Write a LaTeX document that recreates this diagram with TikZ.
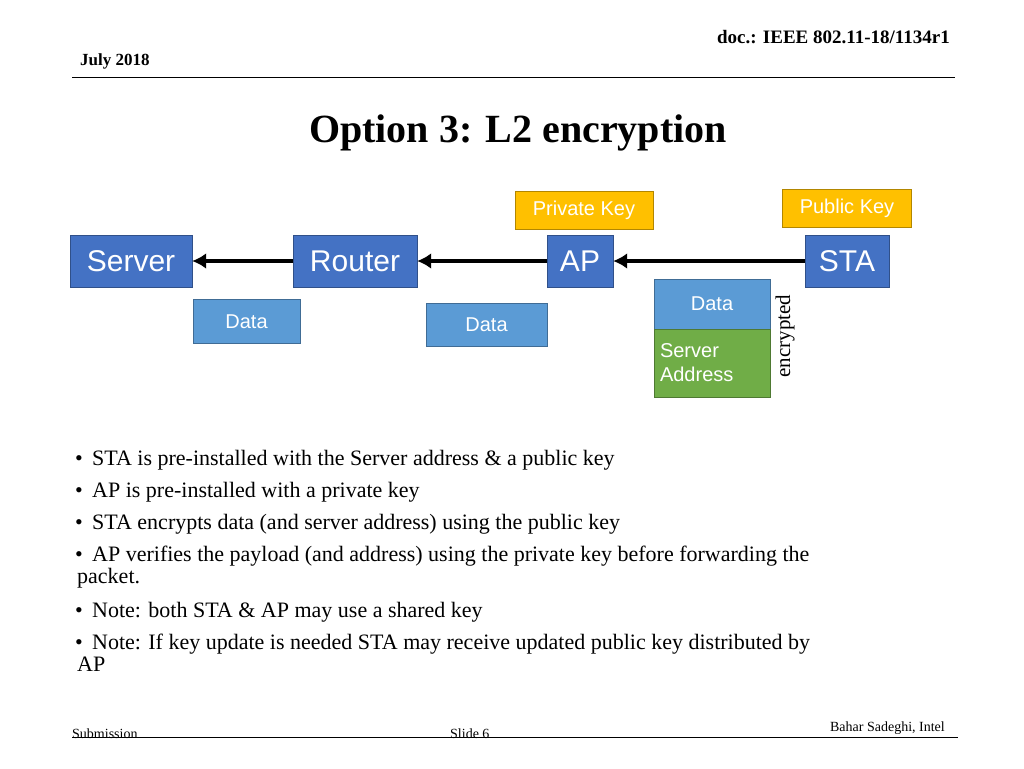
\documentclass[tikz,border=0pt]{standalone}
\usepackage{fontspec}
\setmainfont{Liberation Serif}
\setsansfont{Liberation Sans}
\begin{document}
\begin{tikzpicture}[x=1pt,y=-1pt,
 box/.style={draw=#1!70!black,fill=#1,text=white,font=\sffamily\fontsize{30}{30}\selectfont,inner sep=0pt},
 small/.style={draw=#1!70!black,fill=#1,text=white,font=\sffamily\fontsize{20}{24}\selectfont,inner sep=0pt},
 arr/.style={line width=4pt,-{Latex[length=14pt,width=16pt]}},
 bul/.style={anchor=base west,font=\fontsize{22}{22}\selectfont,inner sep=0pt}]
\usetikzlibrary{arrows.meta}
\definecolor{bblue}{HTML}{4472C4}
\definecolor{lblue}{HTML}{5B9BD5}
\definecolor{orng}{HTML}{FFC000}
\definecolor{grn}{HTML}{70AD47}
\useasboundingbox[fill=white] (0,0) rectangle (1024,768);
\node[anchor=base west,font=\bfseries\fontsize{17}{17}\selectfont,inner sep=0pt] (date) at (80,65) {July 2018};
\node[anchor=base east,font=\bfseries\fontsize{19}{19}\selectfont,inner sep=0pt] (doc) at (950,44) {doc.: IEEE 802.11-18/1134r1};
\draw[line width=1pt] (72,77) -- (955,77);
\node[font=\bfseries\fontsize{40}{40}\selectfont] (title) at (518,133) {Option 3: L2 encryption};
\node[small=orng,minimum width=138,minimum height=38] (pk) at (584,210) {Private Key};
\node[small=orng,minimum width=129,minimum height=38] (pub) at (847,208) {Public Key};
\node[box=bblue,minimum width=122,minimum height=52] (server) at (131,261) {Server};
\node[box=bblue,minimum width=124,minimum height=52] (router) at (355,261) {Router};
\node[box=bblue,minimum width=66,minimum height=52] (ap) at (580,261) {AP};
\node[box=bblue,minimum width=84,minimum height=52] (sta) at (847,261) {STA};
\draw[arr] (sta.west) -- (ap.east);
\draw[arr] (ap.west) -- (router.east);
\draw[arr] (router.west) -- (server.east);
\node[small=lblue,minimum width=107,minimum height=44,anchor=north,text depth=0pt] (d1) at (246.5,299) {};
\node[font=\sffamily\fontsize{20}{20}\selectfont,text=white] at (246.5,322) {Data};
\node[small=lblue,minimum width=121,minimum height=43] (d2) at (486.5,325) {Data};
\node[small=lblue,minimum width=116,minimum height=50] (d3) at (712,304) {Data};
\node[small=grn,minimum width=116,minimum height=68,align=left,text width=104] (sa) at (712,363) {Server\\Address};
\node[rotate=90,font=\fontsize{21}{21}\selectfont] (enc) at (785,336) {encrypted};
\foreach \y/\t [count=\i] in {465/STA is pre-installed with the Server address \& a public key,
 497/AP is pre-installed with a private key,
 529/STA encrypts data (and server address) using the public key,
 561/AP verifies the payload (and address) using the private key before forwarding the,
 617/Note: both STA \& AP may use a shared key,
 649/Note: If key update is needed STA may receive updated public key distributed by}{
 \node[bul] (b\i) at (75,\y) {•};
 \node[bul] (t\i) at (92,\y) {\t};}
\node[bul] (t4b) at (77,583) {packet.};
\node[bul] (t6b) at (77,671) {AP};
\node[anchor=base west,font=\fontsize{14}{14}\selectfont,inner sep=0pt] (sub) at (72,738) {Submission};
\node[anchor=base west,font=\fontsize{14}{14}\selectfont,inner sep=0pt] (sl) at (450,738) {Slide 6};
\node[anchor=base east,font=\fontsize{14}{14}\selectfont,inner sep=0pt] (auth) at (945,731) {Bahar Sadeghi, Intel};
\draw[line width=1pt] (72,737) -- (958,737);
\end{tikzpicture}
\end{document}
